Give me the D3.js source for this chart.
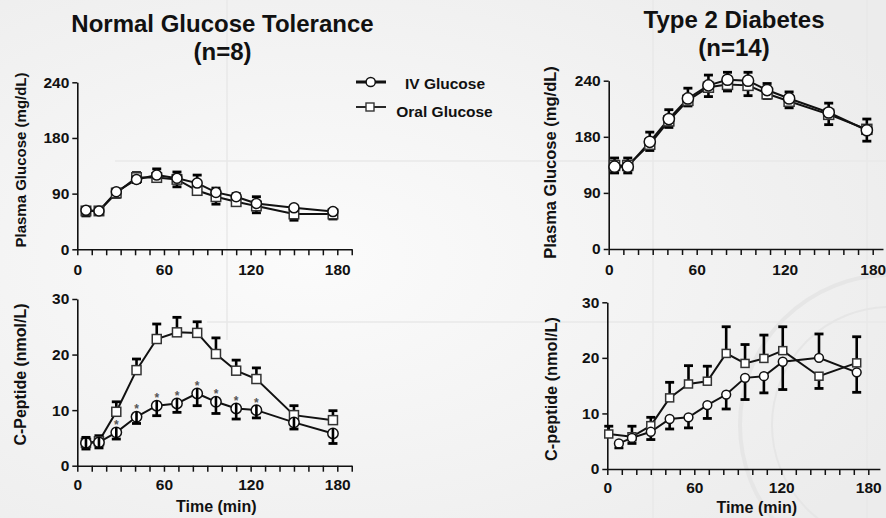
<!DOCTYPE html>
<html>
<head>
<meta charset="utf-8">
<script src="https://cdn.jsdelivr.net/npm/d3@7"></script>
<style>
  body { margin: 0; background: #f1f1f1; }
  svg { display: block; font-family: "Liberation Sans", Arial, sans-serif; font-weight: bold; }
</style>
</head>
<body>
<div id="chart"></div>
<script>
const width = 886, height = 518;

// sampling times (min)
const timeNGT = [6, 15, 27, 41, 55, 69, 83, 96, 110, 124, 150, 177];
const timeT2DGlucose = [4, 13, 28, 41, 54, 68, 81, 95, 108, 123, 150, 176];
const timeT2DPeptideIV = [8, 17, 30, 43, 56, 69, 82, 95, 108, 121, 146, 172];
const timeT2DPeptideOral = [1, 17, 30, 43, 56, 69, 82, 95, 108, 121, 146, 172];

// normal glucose tolerance
const ngtGlucoseIV = [63, 62, 93, 113, 120, 115, 107, 92, 85, 74, 67, 61];
const ngtGlucoseIVErr = [3, 3, 4, 5, 10, 10, 13, 7, 5, 11, 3, 3];
const ngtGlucoseOral = [62, 62, 91, 116, 116, 113, 95, 85, 77, 70, 57, 57];
const ngtGlucoseOralErr = [8, 4, 7, 8, 5, 12, 6, 12, 4, 11, 10, 8];

const ngtPeptideIV = [4.1, 4.2, 6.0, 8.8, 10.8, 11.2, 13.0, 11.5, 10.3, 10.0, 7.8, 5.8];
const ngtPeptideIVErr = [1.0, 1.0, 1.2, 1.2, 1.8, 1.6, 2.2, 2.1, 1.9, 1.4, 1.2, 1.8];
const ngtPeptideOral = [4.1, 4.4, 9.7, 17.2, 22.8, 24.0, 23.9, 20.1, 17.1, 15.6, 9.1, 8.2];
const ngtPeptideOralErr = [1.1, 1.0, 1.8, 2.0, 2.7, 2.7, 2.0, 2.9, 1.9, 2.0, 1.7, 1.7];
const ngtPeptideStars = [0, 0, 1, 1, 1, 1, 1, 1, 1, 1, 0, 0];

// type 2 diabetes
const t2dGlucoseIV = [132, 132, 172, 199, 221, 235, 241, 240, 230, 221, 206, 187];
const t2dGlucoseIVErr = [10, 10, 13, 10, 11, 11, 8, 9, 7, 7, 10, 14];
const t2dGlucoseOral = [134, 134, 168, 197, 219, 233, 236, 235, 226, 218, 204, 188];
const t2dGlucoseOralErr = [12, 12, 10, 7, 6, 10, 7, 11, 5, 7, 11, 11];

const t2dPeptideIV = [4.6, 5.6, 6.7, 9.0, 9.3, 11.5, 13.4, 16.4, 16.7, 19.3, 20.0, 17.4];
const t2dPeptideIVErr = [0.8, 1.0, 1.4, 1.8, 1.9, 2.4, 2.6, 3.9, 3.0, 5.0, 4.3, 3.6];
const t2dPeptideOral = [6.3, 5.8, 7.8, 12.8, 15.3, 15.8, 20.8, 19.0, 19.9, 21.3, 16.7, 19.1];
const t2dPeptideOralErr = [1.4, 1.9, 1.5, 2.8, 3.3, 2.7, 4.8, 3.4, 4.2, 4.3, 2.2, 4.7];

const glucoseTicks = [0, 90, 180, 240];
const peptideTicks = [0, 10, 20, 30];
const timeLabels = [0, 60, 120, 180];

const svg = d3.select("#chart").append("svg")
    .attr("width", width)
    .attr("height", height);

// slide background
const defs = svg.append("defs");
const bg = defs.append("radialGradient").attr("id", "bg")
    .attr("cx", "35%").attr("cy", "50%").attr("r", "75%");
bg.append("stop").attr("offset", "0%").attr("stop-color", "#fbfbfb");
bg.append("stop").attr("offset", "100%").attr("stop-color", "#ececec");
svg.append("rect").attr("width", width).attr("height", height).attr("fill", "url(#bg)");

const deco = svg.append("g").attr("stroke", "#e9e9e9").attr("fill", "none").attr("stroke-width", 1.5);
deco.append("line").attr("x1", 227).attr("x2", 227).attr("y1", 0).attr("y2", 340);
deco.append("line").attr("x1", 115).attr("x2", width).attr("y1", 161).attr("y2", 161);
deco.append("line").attr("x1", 207).attr("x2", width).attr("y1", 322).attr("y2", 322);
deco.append("line").attr("x1", 653).attr("x2", 653).attr("y1", 0).attr("y2", height);
deco.append("line").attr("x1", 867).attr("x2", 867).attr("y1", 0).attr("y2", height);
deco.append("circle").attr("cx", 890).attr("cy", 425).attr("r", 150).attr("stroke-width", 4).attr("stroke", "#e6e6e6");
deco.append("circle").attr("cx", 890).attr("cy", 425).attr("r", 118).attr("stroke-width", 2).attr("stroke", "#e6e6e6");

// titles
function title(lines, cx, ys) {
  lines.forEach((t, i) => {
    svg.append("text").attr("x", cx).attr("y", ys[i])
      .attr("text-anchor", "middle").attr("font-size", 24).attr("fill", "#111").text(t);
  });
}
title(["Normal Glucose Tolerance", "(n=8)"], 222.5, [32, 60]);
title(["Type 2 Diabetes", "(n=14)"], 734, [28, 56]);

function glucoseScale(bottom, top) {
  const step = (bottom - top) / 3;
  return d3.scaleLinear().domain(glucoseTicks).range([bottom, bottom - step, bottom - 2 * step, top]);
}

const panels = [
  { x0: 77.3, k: 1.4444, xEnd: 190, xTickMax: 190, xPad: 9,
    y: glucoseScale(249.3, 82.3), yTicks: glucoseTicks,
    iv: { t: timeNGT, v: ngtGlucoseIV, e: ngtGlucoseIVErr },
    oral: { t: timeNGT, v: ngtGlucoseOral, e: ngtGlucoseOralErr },
    r: 5, sq: 9.5, label: "Plasma Glucose (mg/dL)", lx: 25.5, ly: 160, ls: 15 },
  { x0: 77.3, k: 1.4444, xEnd: 190, xTickMax: 190, xPad: 7,
    y: d3.scaleLinear().domain([0, 30]).range([465.7, 299]), yTicks: peptideTicks,
    iv: { t: timeNGT, v: ngtPeptideIV, e: ngtPeptideIVErr },
    oral: { t: timeNGT, v: ngtPeptideOral, e: ngtPeptideOralErr },
    stars: ngtPeptideStars, barsThrough: true,
    r: 5.2, sq: 9, label: "C-Peptide (nmol/L)", lx: 26, ly: 374.5, ls: 16,
    xTitle: { x: 216.3, y: 512 } },
  { x0: 608.7, k: 1.4667, xEnd: 187, xTickMax: 180, xPad: 9,
    y: glucoseScale(249, 80.7), yTicks: glucoseTicks,
    iv: { t: timeT2DGlucose, v: t2dGlucoseIV, e: t2dGlucoseIVErr },
    oral: { t: timeT2DGlucose, v: t2dGlucoseOral, e: t2dGlucoseOralErr },
    r: 5.6, sq: 10, label: "Plasma Glucose (mg/dL)", lx: 556, ly: 162.5, ls: 16.5 },
  { x0: 607.3, k: 1.45, xEnd: 188, xTickMax: 180, xPad: 7,
    y: d3.scaleLinear().domain([0, 30]).range([469, 302.3]), yTicks: peptideTicks,
    iv: { t: timeT2DPeptideIV, v: t2dPeptideIV, e: t2dPeptideIVErr },
    oral: { t: timeT2DPeptideOral, v: t2dPeptideOral, e: t2dPeptideOralErr },
    r: 4.4, sq: 8, label: "C-peptide (nmol/L)", lx: 556.5, ly: 389, ls: 16.3,
    xTitle: { x: 756.7, y: 513 } }
];

function styleAxis(g) {
  g.select(".domain").attr("stroke", "#111").attr("stroke-width", 1.6);
  g.selectAll(".tick line").attr("stroke", "#111").attr("stroke-width", 1.5);
  g.selectAll(".tick text").attr("fill", "#111").attr("font-size", 15.5)
    .attr("font-family", "Liberation Sans, Arial, sans-serif").attr("font-weight", "bold");
}

function drawPanel(p) {
  const g = svg.append("g");
  const x = d3.scaleLinear().domain([0, p.xEnd]).range([p.x0, p.x0 + p.xEnd * p.k]);
  const y = p.y;

  g.append("g").attr("transform", `translate(0,${y(0)})`)
    .call(d3.axisBottom(x)
      .tickValues(d3.range(0, p.xTickMax + 1, 10))
      .tickFormat(d => timeLabels.includes(d) ? d : "")
      .tickSize(6).tickSizeOuter(0).tickPadding(p.xPad))
    .call(styleAxis);

  g.append("g").attr("transform", `translate(${x(0)},0)`)
    .call(d3.axisLeft(y).tickValues(p.yTicks).tickSize(5).tickSizeOuter(0).tickPadding(3))
    .call(styleAxis);

  g.append("text")
    .attr("transform", `translate(${p.lx},${p.ly}) rotate(-90)`)
    .attr("text-anchor", "middle").attr("font-size", p.ls).attr("fill", "#111")
    .text(p.label);

  if (p.xTitle) {
    g.append("text").attr("x", p.xTitle.x).attr("y", p.xTitle.y)
      .attr("text-anchor", "middle").attr("font-size", 16).attr("fill", "#111")
      .text("Time (min)");
  }

  const series = [
    { key: "oral", s: p.oral, o: p.iv },
    { key: "iv", s: p.iv, o: p.oral }
  ];

  const line = d3.line();
  series.forEach(({ s }) => {
    g.append("path")
      .attr("d", line(s.t.map((t, i) => [x(t), y(s.v[i])])))
      .attr("fill", "none").attr("stroke", "#111").attr("stroke-width", 2);
  });

  function bars(key, s, o, fromEdge) {
    const bg = g.append("g").attr("stroke", "#000").attr("stroke-width", 2.6);
    s.v.forEach((v, i) => {
      const up = key === "iv" ? v >= o.v[i] : v > o.v[i];
      const dir = up ? 1 : -1;
      const cx = x(s.t[i]);
      const cy = y(v);
      const ye = y(v + dir * s.e[i]);
      const y0 = fromEdge ? cy + dir * p.r : cy;
      bg.append("line").attr("x1", cx).attr("x2", cx).attr("y1", y0).attr("y2", ye);
      bg.append("line").attr("x1", cx - 4.5).attr("x2", cx + 4.5).attr("y1", ye).attr("y2", ye)
        .attr("stroke-width", 2.8);
    });
  }

  series.forEach(({ key, s, o }) => {
    if (!(p.barsThrough && key === "iv")) bars(key, s, o, false);
  });

  // markers
  g.append("g").selectAll("rect").data(p.oral.v).join("rect")
    .attr("x", (d, i) => x(p.oral.t[i]) - p.sq / 2)
    .attr("y", d => y(d) - p.sq / 2)
    .attr("width", p.sq).attr("height", p.sq)
    .attr("fill", "#fff").attr("stroke", "#333").attr("stroke-width", 1.5);

  g.append("g").selectAll("circle").data(p.iv.v).join("circle")
    .attr("cx", (d, i) => x(p.iv.t[i]))
    .attr("cy", d => y(d))
    .attr("r", p.r)
    .attr("fill", "#fff").attr("stroke", "#111").attr("stroke-width", 1.5);

  if (p.barsThrough) bars("iv", p.iv, p.oral, true);

  if (p.stars) {
    const starred = p.iv.v.map((v, i) => ({ t: p.iv.t[i], v, on: p.stars[i] })).filter(d => d.on);
    g.append("g").selectAll("text").data(starred).join("text")
      .attr("x", d => x(d.t))
      .attr("y", d => y(d.v) - 3.5)
      .attr("text-anchor", "middle").attr("font-size", 12).attr("fill", "#555")
      .text("*");
  }
}

panels.forEach(drawPanel);

// legend
const legend = svg.append("g");
legend.append("line").attr("x1", 356).attr("x2", 386).attr("y1", 82).attr("y2", 82)
  .attr("stroke", "#111").attr("stroke-width", 3);
legend.append("circle").attr("cx", 370.7).attr("cy", 82).attr("r", 4.6)
  .attr("fill", "#fff").attr("stroke", "#111").attr("stroke-width", 1.5);
legend.append("text").attr("x", 445).attr("y", 88.5).attr("text-anchor", "middle")
  .attr("font-size", 15.5).attr("fill", "#111").text("IV Glucose");

legend.append("line").attr("x1", 356).attr("x2", 386).attr("y1", 107).attr("y2", 107)
  .attr("stroke", "#111").attr("stroke-width", 1.8);
legend.append("rect").attr("x", 366).attr("y", 103).attr("width", 8).attr("height", 8)
  .attr("fill", "#fff").attr("stroke", "#333").attr("stroke-width", 1.4);
legend.append("text").attr("x", 444.5).attr("y", 116.5).attr("text-anchor", "middle")
  .attr("font-size", 15.5).attr("fill", "#111").text("Oral Glucose");
</script>
</body>
</html>
